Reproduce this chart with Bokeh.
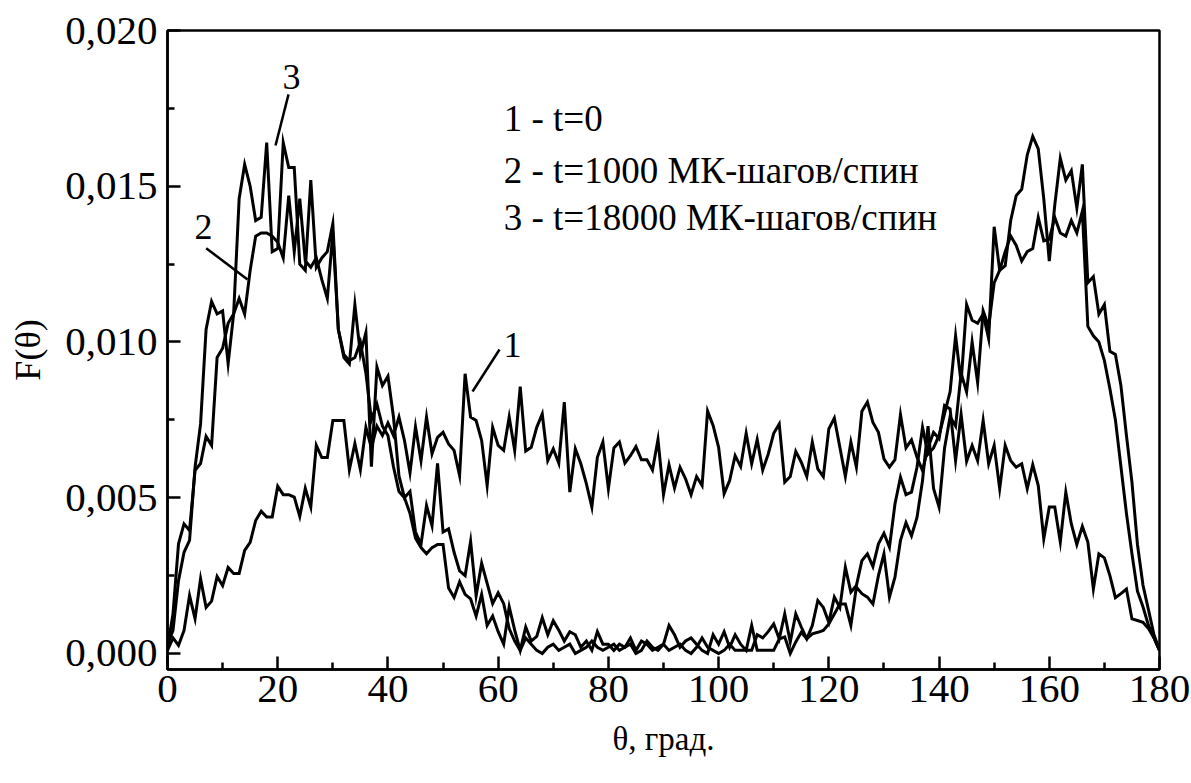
from bokeh.plotting import figure
from bokeh.models import Range1d, FixedTicker, CustomJSTickFormatter, Label
from bokeh.embed import file_html
from bokeh.resources import INLINE

# Angle grid, degrees
theta = list(range(0, 181))

# F(theta), units of 1e-3
f_t0 = [
    0.1, 0.5, 0.26, 0.74, 1.86, 1.12, 2.4, 1.48, 1.68, 2.47,
    2.18, 2.76, 2.57, 2.57, 3.31, 3.57, 4.27, 4.57, 4.38, 4.38,
    5.37, 5.1, 5.1, 5.02, 4.4, 5.3, 4.7, 6.68, 6.29, 6.29,
    7.48, 7.48, 7.48, 5.9, 6.74, 5.9, 7.26, 6.6, 7.3, 7.0,
    7.4, 7.0, 7.59, 6.84, 5.8, 7.28, 6.19, 7.59, 6.41, 6.94,
    7.10, 6.73, 6.52, 5.71, 8.98, 7.59, 7.48, 6.84, 5.39, 7.26,
    6.68, 6.52, 7.59, 6.52, 8.57, 6.50, 6.62, 7.26, 7.69, 6.19,
    6.57, 6.11, 8.07, 5.18, 6.57, 6.09, 5.45, 4.70, 6.30, 6.79,
    5.29, 6.60, 6.79, 6.11, 6.35, 6.64, 6.22, 6.22, 5.89, 6.87,
    5.10, 6.06, 5.31, 5.98, 5.61, 5.10, 5.68, 5.39, 7.78, 7.32,
    6.62, 5.13, 5.55, 6.35, 6.0, 7.07, 6.09, 6.87, 5.89, 6.40,
    7.07, 7.37, 5.50, 5.68, 6.49, 6.14, 5.68, 6.79, 5.93, 5.68,
    7.21, 7.56, 6.62, 5.68, 6.79, 5.98, 7.78, 8.07, 7.42, 7.10,
    6.25, 5.98, 6.22, 7.67, 6.60, 6.86, 6.30, 5.87, 6.6, 7.1,
    6.9, 7.96, 7.85, 6.19, 7.67, 6.17, 6.68, 6.19, 7.48, 6.09,
    6.68, 5.29, 6.68, 6.19, 5.98, 6.09, 5.29, 6.06, 5.39, 3.68,
    4.70, 4.70, 3.58, 5.18, 4.16, 3.50, 4.08, 3.58, 2.07, 3.20,
    3.07, 2.50, 1.79, 1.92, 2.07, 1.11, 1.06, 1.0, 0.8, 0.5, 0.1,
]

f_t1000 = [
    0.2, 1.28, 3.52, 4.16, 3.95, 5.88, 6.1, 6.97, 6.68, 9.5,
    9.8, 10.6, 10.9, 11.4, 10.9, 12.3, 13.4, 13.5, 13.5, 13.4,
    13.2, 12.7, 14.7, 12.9, 14.6, 12.6, 12.4, 12.7, 12.0, 11.4,
    13.5, 10.4, 9.6, 9.4, 9.5, 10.0, 9.0, 7.5, 8.0, 7.3,
    7.0, 6.0, 5.2, 5.0, 4.5, 3.7, 3.4, 3.2, 3.4, 3.5,
    3.5, 2.1, 1.8, 2.3, 1.9, 1.75, 1.2, 1.9, 0.9, 1.2,
    0.7, 0.3, 1.5, 0.75, 0.1, 0.85, 0.4, 0.55, 1.15, 0.6,
    1.05, 0.75, 0.4, 0.7, 0.6, 0.2, 0.4, 0.1, 0.7, 0.3,
    0.3, 0.1, 0.3, 0.2, 0.5, 0.1, 0.4, 0.3, 0.1, 0.2,
    0.3, 0.9, 0.6, 0.2, 0.4, 0.5, 0.3, 0.1, 0.0, 0.6,
    0.3, 0.7, 0.2, 0.6, 0.3, 0.1, 0.9, 0.1, 0.1, 0.1,
    0.1, 0.47, 0.53, 0.0, 0.37, 0.68, 0.47, 0.63, 0.68, 0.74,
    0.95, 1.27, 1.59, 1.59, 0.9, 2.13, 1.92, 1.81, 1.59, 2.5,
    3.2, 1.81, 2.45, 3.63, 4.2, 3.78, 4.37, 5.55, 7.3, 5.3,
    4.7, 6.6, 7.6, 7.3, 9.0, 8.4, 10.0, 8.7, 11.0, 10.5,
    11.9, 12.3, 12.9, 13.4, 13.1, 12.6, 12.9, 13.0, 14.0, 13.25,
    13.3, 14.0, 13.5, 13.4, 13.9, 13.5, 14.2, 10.5, 10.2, 10.0,
    9.4, 8.5, 7.5, 6.0, 4.5, 3.2, 2.0, 1.5, 0.9, 0.5, 0.1,
]

f_t18000 = [
    0.3, 0.74, 2.34, 3.25, 3.63, 5.98, 7.37, 10.4, 11.3, 10.9,
    11.0, 9.3, 10.9, 14.6, 15.7, 15.0, 13.9, 14.0, 16.4, 12.9,
    13.0, 16.4, 15.6, 15.6, 12.5, 12.3, 15.2, 12.4, 12.7, 12.9,
    13.8, 10.4, 9.5, 9.3, 11.2, 9.6, 10.3, 6.0, 9.2, 8.6,
    8.9, 7.6, 5.7, 5.0, 5.2, 3.9, 3.5, 4.75, 4.1, 6.1,
    3.9, 4.0, 3.25, 2.65, 2.5, 3.6, 1.85, 2.9, 2.25, 1.6,
    1.95, 1.6, 0.8, 0.4, 0.1, 0.5, 0.3, 0.1, 0.0, 0.2,
    0.3, 0.1, 0.2, 0.3, 0.0, 0.1, 0.2, 0.4, 0.2, 0.1,
    0.2, 0.3, 0.1, 0.2, 0.3, 0.0, 0.1, 0.4, 0.2, 0.1,
    0.3, 0.1, 0.2, 0.3, 0.1, 0.0, 0.2, 0.5, 0.2, 0.1,
    0.0, 0.1, 0.3, 0.1, 0.1, 0.1, 0.1, 0.6, 0.5, 0.7,
    0.95, 0.47, 1.27, 0.37, 1.27, 0.85, 0.47, 0.9, 1.7, 1.48,
    1.0, 1.81, 1.48, 2.77, 1.97, 2.18, 2.98, 3.2, 2.79, 3.52,
    3.86, 3.41, 4.8, 5.66, 5.1, 5.18, 5.98, 7.26, 6.4, 6.6,
    7.0, 7.7, 8.4, 10.2, 8.7, 11.2, 10.7, 10.6, 10.9, 10.1,
    13.7, 12.3, 12.45, 13.9, 14.7, 14.9, 16.0, 16.6, 16.2, 14.6,
    12.6, 14.4, 15.9, 15.2, 15.5, 14.3, 15.7, 11.9, 12.1, 10.9,
    11.2, 9.7, 9.6, 8.6, 7.0, 5.5, 3.5, 2.2, 1.4, 0.6, 0.1,
]

series = [f_t0, f_t1000, f_t18000]

legend_lines = [
    "1 - t=0",
    "2 - t=1000 МК-шагов/спин",
    "3 - t=18000 МК-шагов/спин",
]

x_ticks = list(range(0, 181, 20))
x_minor = list(range(10, 180, 20))
y_ticks = [0.0, 0.005, 0.010, 0.015, 0.020]
y_minor = [0.0025, 0.0075, 0.0125, 0.0175]

SERIF = "Liberation Serif"

p = figure(
    width=1191, height=783,
    x_range=Range1d(0, 180), y_range=Range1d(-0.000514, 0.020),
    output_backend="svg", toolbar_location=None,
    min_border_left=167, min_border_right=32,
    min_border_top=30, min_border_bottom=114,
)
p.background_fill_color = "white"
p.border_fill_color = "white"
p.grid.visible = False
p.outline_line_color = "black"
p.outline_line_width = 2.5

for ys in series:
    p.line(theta, [v / 1000.0 for v in ys], line_color="black", line_width=3,
           line_join="miter")

# axes
p.xaxis.ticker = FixedTicker(ticks=x_ticks, minor_ticks=x_minor)
p.yaxis.ticker = FixedTicker(ticks=y_ticks, minor_ticks=y_minor)
p.yaxis.formatter = CustomJSTickFormatter(
    code="return tick.toFixed(3).replace('.', ',');")
for ax in (p.xaxis[0], p.yaxis[0]):
    ax.axis_line_width = 2.5
    ax.major_tick_line_width = 2.5
    ax.minor_tick_line_width = 2.5
    ax.major_tick_in = 13
    ax.major_tick_out = 0
    ax.minor_tick_in = 7
    ax.minor_tick_out = 0
    ax.major_label_text_font = SERIF
    ax.major_label_text_font_size = "41px"
    ax.major_label_text_color = "black"
    ax.axis_label_text_font = SERIF
    ax.axis_label_text_font_style = "normal"
    ax.axis_label_text_color = "black"
p.xaxis.axis_label_text_font_size = "33px"
p.yaxis.axis_label_text_font_size = "36px"
p.xaxis.major_label_standoff = 6
p.yaxis.major_label_standoff = 10
p.xaxis.axis_label = "θ, град."
p.yaxis.axis_label = "F(θ)"
p.xaxis.axis_label_standoff = 16
p.yaxis.axis_label_standoff = 14

# legend block
for txt, yv in zip(legend_lines, [0.017175, 0.015506, 0.013997]):
    p.add_layout(Label(x=61.0, y=yv, text=txt, text_font=SERIF,
                       text_font_size="37px", text_baseline="middle",
                       text_align="left", text_color="black"))

# curve numbers with leader lines
curve_tags = ["1", "2", "3"]
tag_pos = [(62.6, 0.00989), (6.53, 0.01368), (22.5, 0.01852)]
leader_from = [(60.25, 0.00976), (7.02, 0.01301), (21.96, 0.01795)]
leader_to = [(55.35, 0.00841), (14.52, 0.01201), (19.6, 0.01631)]
for tag, (tx, ty) in zip(curve_tags, tag_pos):
    p.add_layout(Label(x=tx, y=ty, text=tag, text_font=SERIF,
                       text_font_size="36px", text_baseline="middle",
                       text_align="center", text_color="black"))
p.segment(x0=[a[0] for a in leader_from], y0=[a[1] for a in leader_from],
          x1=[b[0] for b in leader_to], y1=[b[1] for b in leader_to],
          line_color="black", line_width=2.5)

open("out.html", "w").write(file_html(p, INLINE))
